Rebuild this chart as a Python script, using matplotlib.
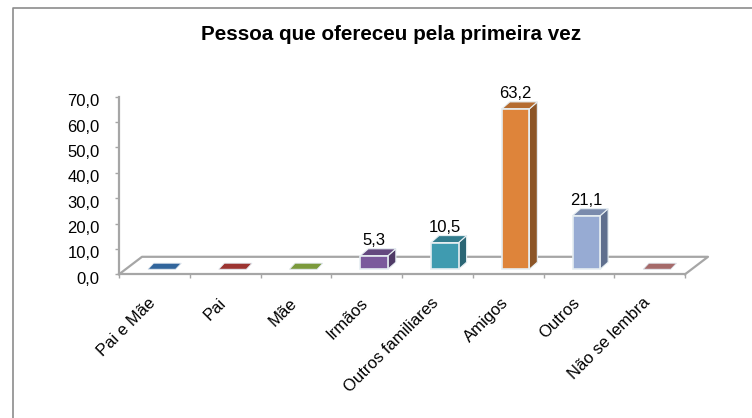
import matplotlib
matplotlib.use('Agg')
import matplotlib.pyplot as plt
from matplotlib.patches import Polygon
from matplotlib.transforms import ScaledTranslation

plt.rcParams['font.family'] = ['Liberation Sans', 'DejaVu Sans']

categories = ['Pai e Mãe', 'Pai', 'Mãe', 'Irmãos', 'Outros familiares', 'Amigos', 'Outros', 'Não se lembra']
values = [0, 0, 0, 5.3, 10.5, 63.2, 21.1, 0]
labels = ['', '', '', '5,3', '10,5', '63,2', '21,1', '']
front_colors = ['#31659c', '#9c3431', '#7b9a3c', '#7b5a9c', '#3f9bb0', '#de843a', '#97abd3', '#a56a6a']
side_colors = ['#2a5685', '#852c2a', '#688333', '#4f3a66', '#2b6675', '#8c5527', '#5f6f8e', '#8a5858']
top_colors = ['#31659c', '#9c3431', '#7b9a3c', '#64497f', '#327c8d', '#b56c30', '#7a8bad', '#a56a6a']
yticks = [0, 10, 20, 30, 40, 50, 60, 70]

W, H = 752, 418
fig = plt.figure(figsize=(W / 100, H / 100), dpi=100)
# axes box in pixels: x 119-685, y 96.7-274.3
ax = fig.add_axes([119 / W, 1 - 274.3 / H, (685 - 119) / W, (274.3 - 96.7) / H])
ax.set_xlim(0, 8)
ax.set_ylim(0, 70)

# pixel helpers for the fake depth
px = 8 / (685 - 119)
py = 70 / (274.3 - 96.7)
floor_dx, floor_dy = 23 * px, 17.5 * py
base = 2.0
bar_w = 0.39
dx, dy = 8 * px, 7 * py
grey = '#a6a6a6'

# floor
ax.plot([0, floor_dx, 8 + floor_dx, 8], [0, floor_dy, floor_dy, 0], color=grey, lw=1.6, clip_on=False, zorder=1)

for i, v in enumerate(values):
    left = i + 0.5 + 0.105 - bar_w / 2
    if v == 0:
        ax.add_patch(Polygon([(left, base), (left + bar_w, base), (left + bar_w + 0.08, base + 6 * py), (left + 0.08, base + 6 * py)],
                             fc=front_colors[i], ec='#dfe6ee', lw=0.6, zorder=3, clip_on=False))
        continue
    top = base + v
    ax.bar(left, v, width=bar_w, bottom=base, align='edge', color=front_colors[i], edgecolor='#e6eef2', linewidth=1.2, zorder=3, clip_on=False)
    r = left + bar_w
    ax.add_patch(Polygon([(r, base), (r + dx, base + dy), (r + dx, top + dy), (r, top)],
                         fc=side_colors[i], ec='#e6eef2', lw=0.8, zorder=2.5, clip_on=False))
    ax.add_patch(Polygon([(left, top), (r, top), (r + dx, top + dy), (left + dx, top + dy)],
                         fc=top_colors[i], ec='#e6eef2', lw=0.8, zorder=2.5, clip_on=False))
    ax.text(left + bar_w / 2, top + dy + 0.4, labels[i], ha='center', va='bottom', fontsize=12, color='black', zorder=4)

for s in ['top', 'right']:
    ax.spines[s].set_visible(False)
for s in ['left', 'bottom']:
    ax.spines[s].set_color(grey)
    ax.spines[s].set_linewidth(1.6)

ax.set_yticks(yticks)
ax.set_yticklabels([f'{t},0' for t in yticks], fontsize=12)
ax.set_xticks(range(9))
ax.set_xticklabels([])
ax.tick_params(axis='y', length=3, width=1, color=grey, pad=11)
ax.tick_params(axis='x', length=3, width=1, color=grey)
# tick labels sit a little below their ticks in the original
for t in ax.get_yticklabels():
    t.set_transform(t.get_transform() + ScaledTranslation(0, -3.5 / 100, fig.dpi_scale_trans))

for i, c in enumerate(categories):
    ax.annotate(c, xy=(i + 0.5, 0), xytext=(-5, -15), textcoords='offset points', rotation=45,
                rotation_mode='anchor', ha='right', va='top', fontsize=12)

fig.text(391 / W, 1 - 35 / H, 'Pessoa que ofereceu pela primeira vez', ha='center', va='center', fontsize=14.9, fontweight='bold')

# chart frame
fig.add_artist(plt.Line2D([12.5 / W, 12.5 / W, 1], [0, 1 - 8 / H, 1 - 8 / H], color='#8c8c8c', lw=1.2))

fig.savefig('out.png', dpi=100)
